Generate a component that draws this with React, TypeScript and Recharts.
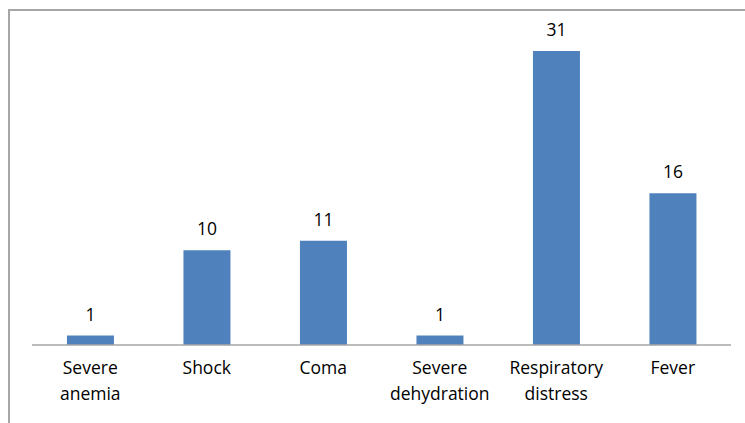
import { BarChart, Bar, XAxis, YAxis, LabelList } from 'recharts'

const categories = ['Severe anemia', 'Shock', 'Coma', 'Severe dehydration', 'Respiratory distress', 'Fever']
const counts = [1, 10, 11, 1, 31, 16]

const data = categories.map((name, i) => ({ name, count: counts[i] }))

const FONT = '"Open Sans", sans-serif'
const FONT_SIZE = 17.5

// category names wrap onto two lines at the space
const CategoryTick = ({ x, y, payload }: any) => {
  const lines = String(payload.value).split(' ')
  return (
    <text x={x} y={y} textAnchor="middle" fill="#000" fontSize={FONT_SIZE} fontFamily={FONT}>
      {lines.map((line, i) => (
        <tspan key={i} x={x} dy={i === 0 ? 21 : 26}>
          {line}
        </tspan>
      ))}
    </text>
  )
}

export default function App() {
  return (
    <div style={{ position: 'fixed', left: 0, top: 0, width: 745, height: 423, overflow: 'hidden', background: '#fff' }}>
      <div
        style={{
          position: 'absolute',
          left: 8,
          top: 9,
          width: 800,
          height: 500,
          border: '2px solid #a6a6a6',
          boxSizing: 'border-box',
        }}
      />
      <div style={{ position: 'absolute', left: 0, top: 0 }}>
        <BarChart
          width={745}
          height={423}
          data={data}
          margin={{ top: 13, right: 14, left: 32, bottom: 8 }}
          barCategoryGap="30%"
        >
          <XAxis
            dataKey="name"
            height={70}
            interval={0}
            tick={<CategoryTick />}
            tickLine={false}
            axisLine={{ stroke: '#a6a6a6', strokeWidth: 1.5 }}
          />
          <YAxis hide domain={[0, 35]} />
          <Bar dataKey="count" fill="#4f81bd" isAnimationActive={false}>
            <LabelList dataKey="count" position="top" offset={15} fill="#000" fontSize={FONT_SIZE} fontFamily={FONT} />
          </Bar>
        </BarChart>
      </div>
    </div>
  )
}
